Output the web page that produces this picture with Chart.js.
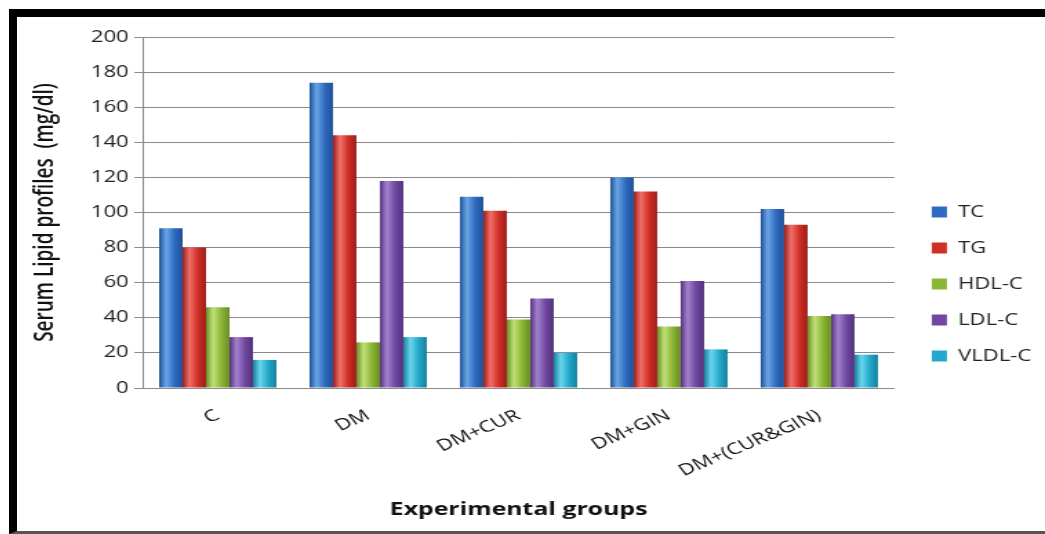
<!DOCTYPE html>
<html lang="en">
<head>
    <meta charset="UTF-8">
    <title>Serum Lipid profiles</title>
    <script src="https://cdn.jsdelivr.net/npm/chart.js"></script>
    <style>
        body { margin: 0; background: #fff; }
        /* black frame of the original picture: top + left thick, thin grey bottom */
        #frame {
            position: absolute;
            left: 9px; top: 9px;
            width: 1036px; height: 525px;
            box-sizing: border-box;
            border-top: 8px solid #000;
            border-left: 8px solid #000;
            border-bottom: 3px solid #555;
            overflow: hidden;
        }
        /* the source image is stretched sideways, so stretch the canvas too */
        #wrap {
            position: absolute;
            left: 0; top: 0;
            width: 745px; height: 514px;
            transform: scaleX(1.3799);
            transform-origin: 0 0;
        }
    </style>
</head>
<body>
    <div id="frame">
        <div id="wrap">
            <canvas id="myChart" width="745" height="514"></canvas>
        </div>
    </div>

    <script>
        // data
        var groups = ["C", "DM", "DM+CUR", "DM+GIN", "DM+(CUR&GIN)"];
        var tc   = [91, 174, 109, 120, 102];
        var tg   = [80, 144, 101, 112, 93];
        var hdl  = [46, 26, 39, 35, 41];
        var ldl  = [29, 118, 51, 61, 42];
        var vldl = [16, 29, 20, 22, 19];
        var yTicks = [0, 20, 40, 60, 80, 100, 120, 140, 160, 180, 200];

        // base / highlight / edge colour for each series
        var shades = [
            { base: "#2f6bc0", light: "#6aa6e6", dark: "#1f4f96" },
            { base: "#cf2f27", light: "#f2706a", dark: "#9c1d18" },
            { base: "#8cb636", light: "#c2e07a", dark: "#6a8d22" },
            { base: "#7048a0", light: "#a582cf", dark: "#53327c" },
            { base: "#22a8ca", light: "#6ad6ee", dark: "#17809c" }
        ];

        Chart.defaults.font.family = "'Open Sans', sans-serif";
        Chart.defaults.color = "#2a2a2a";

        // cylinder-like shading, built from each bar's own x / width
        var barShading = {
            id: "barShading",
            beforeDatasetsDraw: function (chart) {
                var ctx = chart.ctx;
                chart.data.datasets.forEach(function (ds, i) {
                    var c = shades[i];
                    chart.getDatasetMeta(i).data.forEach(function (bar) {
                        var x0 = bar.x - bar.width / 2;
                        var g = ctx.createLinearGradient(x0, 0, x0 + bar.width, 0);
                        g.addColorStop(0, c.dark);
                        g.addColorStop(0.3, c.light);
                        g.addColorStop(0.65, c.base);
                        g.addColorStop(1, c.dark);
                        if (Object.isFrozen(bar.options)) bar.options = Object.assign({}, bar.options);
                        bar.options.backgroundColor = g;
                    });
                });
            }
        };

        function series(label, values, i) {
            return {
                label: label,
                data: values,
                backgroundColor: function () { return shades[i].base; },
                borderWidth: 0,
                categoryPercentage: 0.78,
                barPercentage: 1.0
            };
        }

        var ctx = document.getElementById("myChart").getContext("2d");
        var myChart = new Chart(ctx, {
            type: "bar",
            data: {
                labels: groups,
                datasets: [
                    series("TC", tc, 0),
                    series("TG", tg, 1),
                    series("HDL-C", hdl, 2),
                    series("LDL-C", ldl, 3),
                    series("VLDL-C", vldl, 4)
                ]
            },
            options: {
                responsive: false,
                animation: false,
                layout: { padding: { top: 20, right: 0, bottom: 0, left: 0 } },
                plugins: {
                    tooltip: { enabled: false },
                    legend: {
                        position: "right",
                        labels: {
                            boxWidth: 11,
                            boxHeight: 11,
                            padding: 20,
                            color: "#222",
                            font: { size: 16 }
                        }
                    }
                },
                scales: {
                    x: {
                        grid: { display: false, drawTicks: false },
                        border: { color: "#8a8a8a" },
                        ticks: {
                            minRotation: 30,
                            maxRotation: 30,
                            padding: 18,
                            color: "#111",
                            font: { size: 16 }
                        },
                        title: {
                            display: true,
                            text: "Experimental groups",
                            color: "#111",
                            font: { size: 18, weight: "bold" },
                            padding: { top: 4, bottom: 10 }
                        },
                        afterFit: function (s) { s.height = 143; }
                    },
                    y: {
                        min: 0,
                        max: 200,
                        afterBuildTicks: function (s) {
                            s.ticks = yTicks.map(function (v) { return { value: v }; });
                        },
                        grid: { color: "#8a8a8a", tickLength: 6 },
                        border: { color: "#8a8a8a" },
                        ticks: {
                            padding: 4,
                            color: "#222",
                            font: { size: 16 }
                        },
                        title: {
                            display: true,
                            text: "Serum Lipid profiles  (mg/dl)",
                            color: "#111",
                            font: { size: 19, weight: "600" },
                            padding: { top: 9, bottom: 0 }
                        },
                        afterFit: function (s) { s.width = 91; }
                    },
                    // empty spacer between plot and legend
                    gap: {
                        type: "linear",
                        position: "right",
                        grid: { display: false },
                        border: { display: false },
                        ticks: { display: false },
                        afterFit: function (s) { s.width = 7; }
                    }
                }
            },
            plugins: [barShading]
        });
    </script>
</body>
</html>
